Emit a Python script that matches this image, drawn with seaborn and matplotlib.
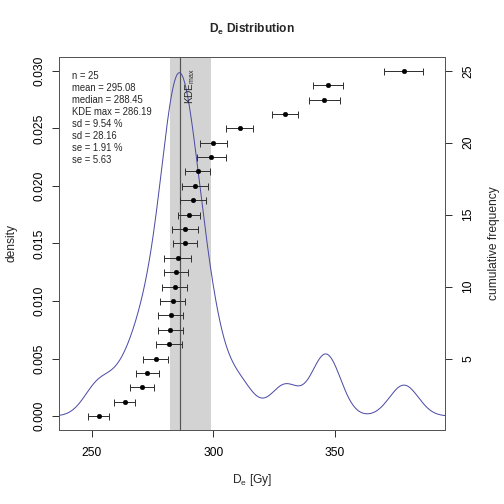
import numpy as np
import matplotlib
matplotlib.use("Agg")
import matplotlib.pyplot as plt
import seaborn as sns

# De values (Gy), sorted, and their errors
de_values = [252.8, 263.5, 270.6, 272.8, 276.3, 281.7, 282.3, 282.4, 283.2, 284.1,
             284.6, 285.4, 288.3, 288.3, 289.9, 291.6, 292.3, 293.5, 299.1, 300.0,
             310.8, 329.5, 345.7, 347.0, 378.4]
de_errors = [4.45, 4.25, 4.8, 4.65, 5.1, 5.3, 5.1, 5.1, 5.1, 5.1,
             5.0, 5.5, 5.1, 5.2, 4.5, 5.3, 5.3, 5.2, 6.0, 5.5,
             5.5, 5.5, 6.5, 6.2, 8.0]
stat_labels = ["n", "mean", "median", "KDE max", "sd", "sd", "se", "se"]
stat_values = ["25", "295.08", "288.45", "286.19", "9.54 %", "28.16", "1.91 %", "5.63"]
kde_max = 286.19

sns.set_style("ticks")
plt.rcParams['font.family'] = ['Liberation Sans', 'DejaVu Sans']
plt.rcParams['mathtext.fontset'] = 'custom'
plt.rcParams['mathtext.rm'] = 'Liberation Sans'
plt.rcParams['mathtext.bf'] = 'Liberation Sans:bold'

de = np.array(de_values)
cum = np.arange(1, len(de) + 1)

# R style nrd0 bandwidth, converted to a scipy-style factor
q75, q25 = np.percentile(de, [75, 25])
bw = 0.9 * min(de.std(ddof=1), (q75 - q25) / 1.34) * len(de) ** -0.2
factor = bw / de.std(ddof=1)

fig = plt.figure(figsize=(7, 7), dpi=72)
ax = fig.add_axes([0.117, 0.147, 0.766, 0.740])

# interquartile band + KDE max line
ax.axvspan(q25, q75, color='#d3d3d3', lw=0, zorder=0)
ax.axvline(kde_max, color='#555555', lw=1.2, zorder=1)

sns.kdeplot(x=de, bw_method=factor, cut=4, gridsize=600, color='#4b4ba5', lw=1, ax=ax, zorder=2)
ax.set_xlim(236.5, 395.3)
ax.set_ylim(-0.0012, 0.0312)
ax.set_yticks([0, 0.005, 0.010, 0.015, 0.020, 0.025, 0.030])
ax.set_yticklabels(["0.000", "0.005", "0.010", "0.015", "0.020", "0.025", "0.030"],
                   rotation=90, va='center')
ax.set_xticks([250, 300, 350])
ax.set_ylabel("density", fontsize=12, labelpad=16)
ax.set_xlabel(r"D$_\mathregular{e}$ [Gy]", fontsize=12, labelpad=13)
ax.set_title(r"$\mathbf{D_e}$ Distribution", fontsize=12, fontweight='bold', pad=24)

ax.text(kde_max + 1.3, 0.0302, r"KDE$_\mathregular{max}$", rotation=90,
        va='top', ha='left', fontsize=10)

stats_text = "\n".join(f"{k} = {v}" for k, v in zip(stat_labels, stat_values))
ax.text(0.035, 0.963, stats_text, transform=ax.transAxes, va='top', ha='left',
        fontsize=9.5, linespacing=1.25)

# cumulative frequency on twin axis
ax2 = ax.twinx()
ax2.errorbar(de, cum, xerr=de_errors, fmt='none', ecolor='#333333', elinewidth=1,
             capsize=3.5, capthick=1)
sns.scatterplot(x=de, y=cum, color='black', s=22, edgecolor='black', ax=ax2, zorder=3)
ax2.set_ylim(0.04, 25.96)
ax2.set_yticks([5, 10, 15, 20, 25])
ax2.set_yticklabels(["5", "10", "15", "20", "25"], rotation=90, va='center')
ax2.set_ylabel("cumulative frequency", fontsize=12, labelpad=14)
ax2.set_xlim(236.5, 395.3)

for a in (ax, ax2):
    a.tick_params(direction='out', length=7, width=1, labelsize=12, colors='#333333',
                  labelcolor='black', pad=6)
    for s in a.spines.values():
        s.set_visible(True)
        s.set_color('#555555')
        s.set_linewidth(1)
ax.tick_params(axis='x', pad=10)
ax2.tick_params(axis='y', pad=10)

fig.savefig("out.png", dpi=72)
